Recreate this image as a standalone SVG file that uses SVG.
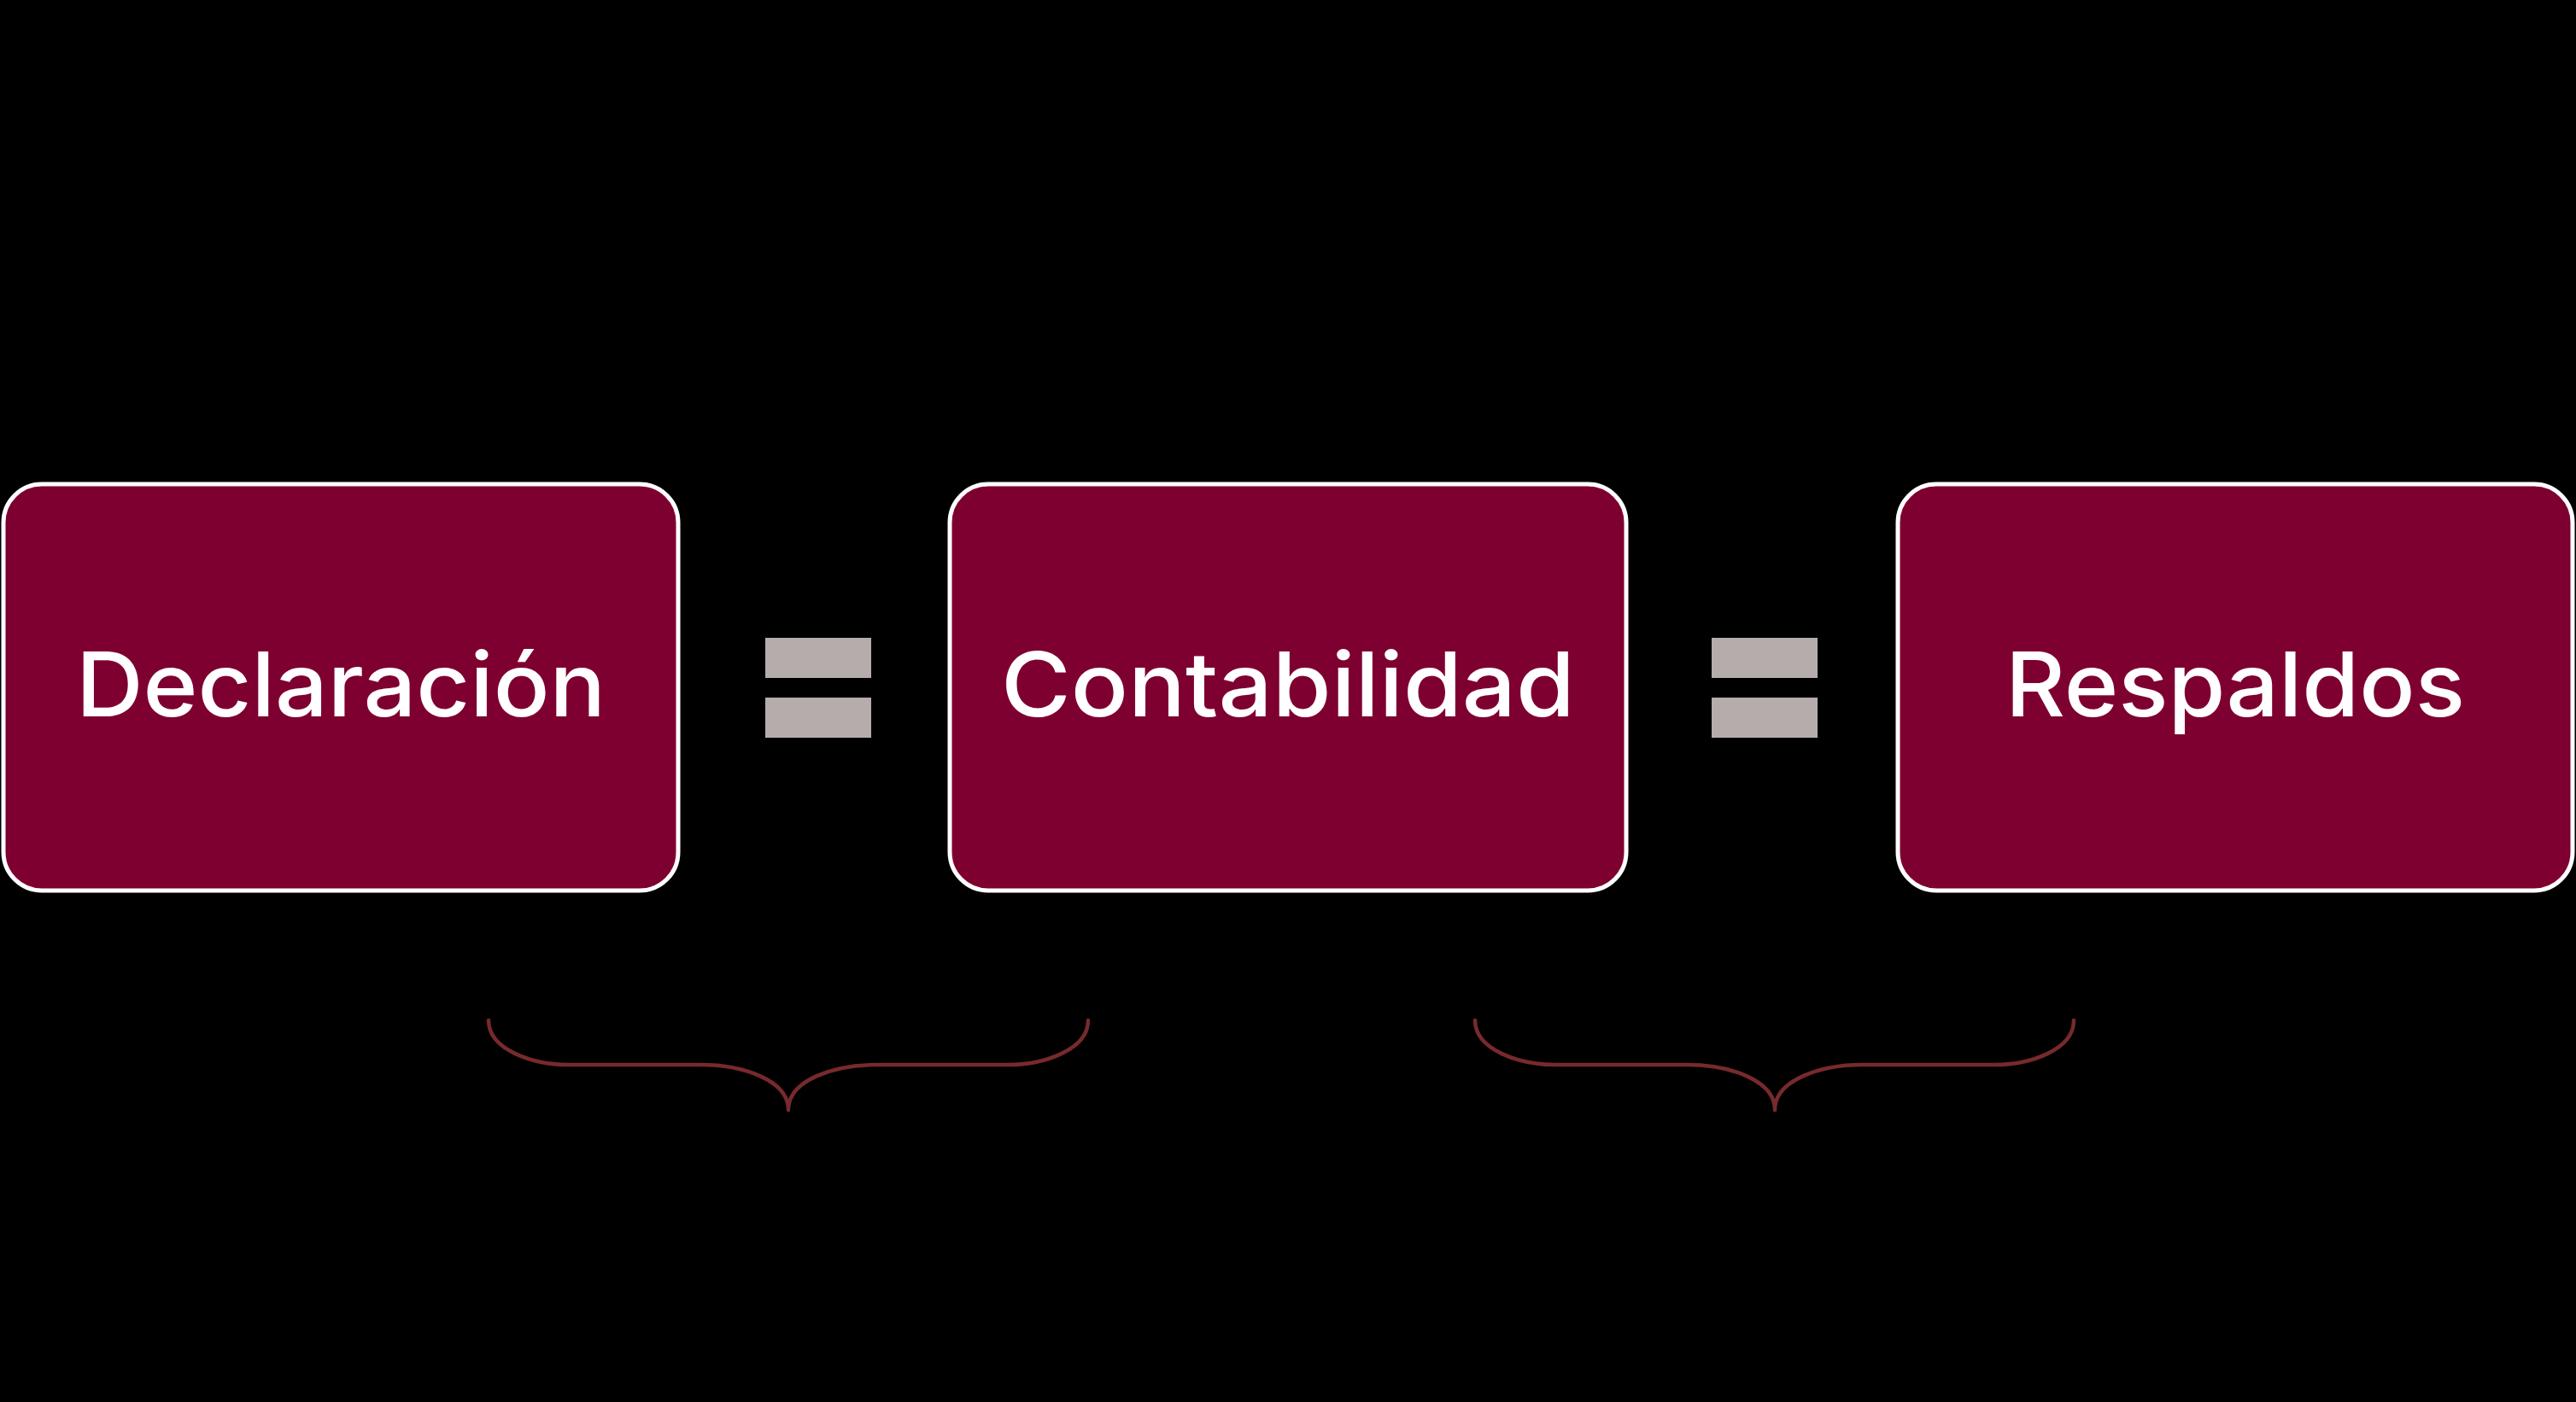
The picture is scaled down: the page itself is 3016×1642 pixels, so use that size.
<svg xmlns="http://www.w3.org/2000/svg" width="3016" height="1642" viewBox="0 0 3016 1642">
<style>
.box{fill:#7E0030;stroke:#FFFFFF;stroke-width:5}
.lbl{fill:#FFFFFF;font-family:Inter,"Open Sans","Liberation Sans",sans-serif;font-size:104px;font-weight:500;text-anchor:middle}
.eq{fill:#B5ADAC}
.brace{fill:none;stroke:#772A2C;stroke-width:4.5;stroke-linecap:round;stroke-linejoin:round}
</style>
<rect x="0" y="0" width="3016" height="1642" fill="#000000"/>
<g id="declaracion">
<rect class="box" x="4" y="567" width="790" height="476" rx="45" ry="45"/>
<text class="lbl" x="399" y="839" textLength="620" lengthAdjust="spacingAndGlyphs">Declaración</text>
</g>
<g id="contabilidad">
<rect class="box" x="1112" y="567" width="792" height="476" rx="45" ry="45"/>
<text class="lbl" x="1508" y="839" textLength="672" lengthAdjust="spacingAndGlyphs">Contabilidad</text>
</g>
<g id="respaldos">
<rect class="box" x="2222" y="567" width="790" height="476" rx="45" ry="45"/>
<text class="lbl" x="2617" y="839" textLength="538" lengthAdjust="spacingAndGlyphs">Respaldos</text>
</g>
<g id="equals1">
<rect class="eq" x="896" y="747" width="124" height="47"/>
<rect class="eq" x="896" y="817" width="124" height="47"/>
</g>
<g id="equals2">
<rect class="eq" x="2004" y="747" width="124" height="47"/>
<rect class="eq" x="2004" y="817" width="124" height="47"/>
</g>
<g id="connectors">
<path class="brace" d="M 572 1195 C 572 1230 625 1247 665 1247 L 820 1247 C 870 1247 923 1265 923 1300 C 923 1265 976 1247 1026 1247 L 1181 1247 C 1221 1247 1274 1230 1274 1195"/>
<path class="brace" d="M 1727 1195 C 1727 1230 1780 1247 1820 1247 L 1975 1247 C 2025 1247 2078 1265 2078 1300 C 2078 1265 2131 1247 2181 1247 L 2336 1247 C 2376 1247 2428 1230 2428 1195"/>
</g>
</svg>
